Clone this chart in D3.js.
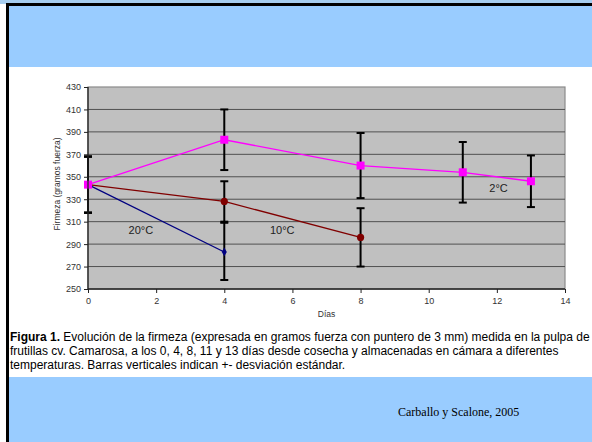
<!DOCTYPE html>
<html>
<head>
<meta charset="utf-8">
<script src="https://cdn.jsdelivr.net/npm/d3@7"></script>
<style>
  html, body { margin: 0; padding: 0; background: #fff; }
  svg { display: block; }
</style>
</head>
<body>
<svg id="chart" width="592" height="442"></svg>
<script>
// Firmness of strawberries (cv. Camarosa) over storage days at three temperatures
const days2 = [0, 4, 8, 11, 13];
const firm2 = [343, 383, 360, 354, 346];
const sd2Low = [318, 356, 331, 327, 323];
const sd2High = [368, 410, 389, 381, 369];

const days10 = [0, 4, 8];
const firm10 = [343, 328, 296];
const sd10Low = [318, 309, 270];
const sd10High = [368, 346, 322];

const days20 = [0, 4];
const firm20 = [343, 283];
const sd20Low = [318, 258];
const sd20High = [368, 310];

const xTicks = [0, 2, 4, 6, 8, 10, 12, 14];
const yTicks = [250, 270, 290, 310, 330, 350, 370, 390, 410, 430];

const seriesLabels = [
  { text: "20°C", day: 1.55, value: 302 },
  { text: "10°C", day: 5.7, value: 302 },
  { text: "2°C", day: 12.05, value: 339 }
];

const captionLines = [
  [{ t: "Figura 1.", b: true }, { t: " Evolución de la firmeza (expresada en gramos fuerza con puntero de 3 mm) medida en la pulpa de", b: false }],
  [{ t: "frutillas cv. Camarosa, a los 0, 4, 8, 11 y 13 días desde cosecha y almacenadas en cámara a diferentes", b: false }],
  [{ t: "temperaturas.  Barras verticales indican +- desviación estándar.", b: false }]
];

const svg = d3.select("#chart");
const W = 592, H = 442;

// Slide background: blue header and footer bands, black frame on top and left
svg.append("rect").attr("x", 0).attr("y", 0).attr("width", W).attr("height", H).attr("fill", "#fff");
svg.append("rect").attr("x", 0).attr("y", 0).attr("width", W).attr("height", 4).attr("fill", "#a6cdef");
svg.append("rect").attr("x", 8).attr("y", 5).attr("width", W - 8).attr("height", 62).attr("fill", "#99ccff");
svg.append("rect").attr("x", 8).attr("y", 377).attr("width", W - 8).attr("height", H - 377).attr("fill", "#99ccff");
svg.append("rect").attr("x", 6).attr("y", 3).attr("width", W - 6).attr("height", 3).attr("fill", "#000");
svg.append("rect").attr("x", 6).attr("y", 3).attr("width", 3).attr("height", H - 3).attr("fill", "#000");

// Plot scales
const x = d3.scaleLinear().domain([0, 14]).range([88, 565]);
const y = d3.scaleLinear().domain([250, 430]).range([289, 87]);

const plot = svg.append("g");
plot.append("rect")
  .attr("x", x(0)).attr("y", y(430))
  .attr("width", x(14) - x(0)).attr("height", y(250) - y(430))
  .attr("fill", "#c0c0c0").attr("stroke", "#8a8a8a").attr("stroke-width", 1.2);

// Horizontal gridlines
plot.selectAll(".grid").data(yTicks.filter(v => v > 250 && v < 430)).join("line")
  .attr("x1", x(0)).attr("x2", x(14))
  .attr("y1", d => y(d)).attr("y2", d => y(d))
  .attr("stroke", "#505050").attr("stroke-width", 1);

// Axes
const yAxis = d3.axisLeft(y).tickValues(yTicks).tickSize(4).tickPadding(3);
const gy = svg.append("g").attr("transform", `translate(${x(0)},0)`).call(yAxis);
const xAxis = d3.axisBottom(x).tickValues(xTicks).tickSize(4).tickPadding(5);
const gx = svg.append("g").attr("transform", `translate(0,${y(250)})`).call(xAxis);
[gx, gy].forEach(g => {
  g.select(".domain").attr("stroke", "#222").attr("stroke-width", 1.3);
  g.selectAll(".tick line").attr("stroke", "#222");
  g.selectAll("text").attr("font-family", "Liberation Sans, Arial, sans-serif")
    .attr("font-size", 9).attr("fill", "#333");
});
gx.select(".domain").attr("d", `M${x(0)},0H${x(14)}`);
gy.select(".domain").attr("d", `M0,${y(250)}V${y(430)}`);

// Axis titles
svg.append("text").attr("x", (x(0) + x(14)) / 2).attr("y", 317)
  .attr("text-anchor", "middle").attr("font-family", "Liberation Sans, Arial, sans-serif")
  .attr("font-size", 8.5).attr("fill", "#333").text("Días");
svg.append("text").attr("transform", `translate(60,${(y(250) + y(430)) / 2 - 4}) rotate(-90)`)
  .attr("text-anchor", "middle").attr("font-family", "Liberation Sans, Arial, sans-serif")
  .attr("font-size", 8.5).attr("fill", "#333").text("Firmeza (gramos fuerza)");

// Error bars
function errorBars(days, lo, hi) {
  const rows = days.map((d, i) => ({ d, lo: lo[i], hi: hi[i] }));
  const g = plot.append("g").attr("stroke", "#000").attr("stroke-width", 2);
  g.selectAll(".v").data(rows).join("line")
    .attr("x1", r => x(r.d)).attr("x2", r => x(r.d))
    .attr("y1", r => y(r.lo)).attr("y2", r => y(r.hi));
  g.selectAll(".capH").data(rows).join("line")
    .attr("x1", r => x(r.d) - 4).attr("x2", r => x(r.d) + 4)
    .attr("y1", r => y(r.hi)).attr("y2", r => y(r.hi));
  g.selectAll(".capL").data(rows).join("line")
    .attr("x1", r => x(r.d) - 4).attr("x2", r => x(r.d) + 4)
    .attr("y1", r => y(r.lo)).attr("y2", r => y(r.lo));
}
errorBars(days2, sd2Low, sd2High);
errorBars(days10, sd10Low, sd10High);
errorBars(days20, sd20Low, sd20High);

const line = d3.line().x(p => x(p[0])).y(p => y(p[1]));
function series(days, vals, color) {
  const pts = days.map((d, i) => [d, vals[i]]);
  plot.append("path").datum(pts).attr("d", line)
    .attr("fill", "none").attr("stroke", color).attr("stroke-width", 1.3);
  return pts;
}

// 20°C: navy line with diamonds
const p20 = series(days20, firm20, "#000080");
plot.selectAll(".m20").data(p20).join("path")
  .attr("d", d3.symbol(d3.symbolDiamond, 22))
  .attr("transform", p => `translate(${x(p[0])},${y(p[1])})`)
  .attr("fill", "#000080");

// 10°C: dark red line with circles
const p10 = series(days10, firm10, "#800000");
plot.selectAll(".m10").data(p10).join("circle")
  .attr("cx", p => x(p[0])).attr("cy", p => y(p[1])).attr("r", 3.6)
  .attr("fill", "#800000");

// 2°C: magenta line with squares
const p2 = series(days2, firm2, "#ff00ff");
plot.selectAll(".m2").data(p2).join("rect")
  .attr("x", p => x(p[0]) - 4).attr("y", p => y(p[1]) - 4)
  .attr("width", 8).attr("height", 8)
  .attr("fill", "#ff00ff");

// Series labels inside the plot
plot.selectAll(".lbl").data(seriesLabels).join("text")
  .attr("x", l => x(l.day)).attr("y", l => y(l.value))
  .attr("text-anchor", "middle").attr("dominant-baseline", "middle")
  .attr("font-family", "Liberation Sans, Arial, sans-serif")
  .attr("font-size", 11).attr("fill", "#222")
  .text(l => l.text);

// Caption
const cap = svg.append("g").attr("font-family", "Liberation Sans, Arial, sans-serif")
  .attr("font-size", 12).attr("fill", "#000");
captionLines.forEach((parts, i) => {
  const t = cap.append("text").attr("x", 10).attr("y", 341 + i * 14);
  parts.forEach(p => t.append("tspan").attr("font-weight", p.b ? "bold" : "normal").text(p.t));
});

// Source credit
svg.append("text").attr("x", 398).attr("y", 416)
  .attr("font-family", "Liberation Serif, Times New Roman, serif")
  .attr("font-size", 12).attr("fill", "#000")
  .text("Carballo y Scalone, 2005");
</script>
</body>
</html>
